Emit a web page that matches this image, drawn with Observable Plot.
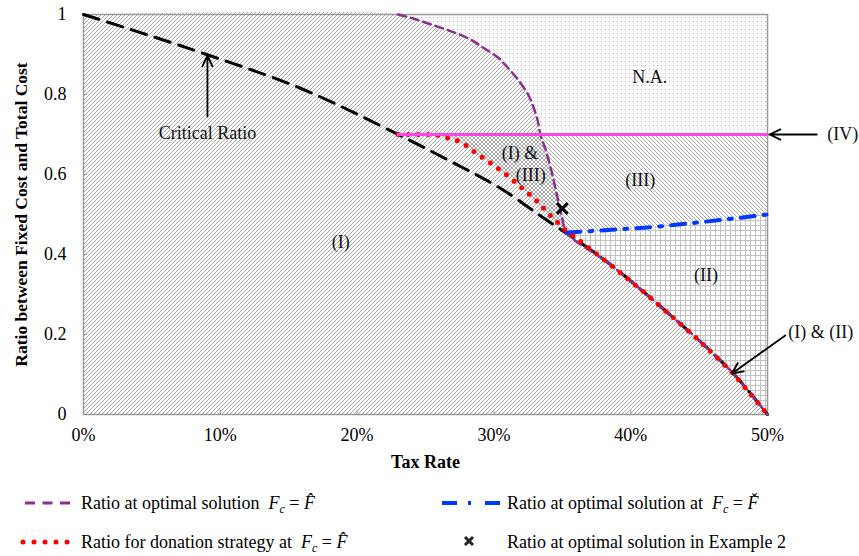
<!DOCTYPE html>
<html>
<head>
<meta charset="utf-8">
<script src="https://cdn.jsdelivr.net/npm/d3@7"></script>
<script src="https://cdn.jsdelivr.net/npm/@observablehq/plot@0.6"></script>
<style>
  body { margin: 0; background: white; }
  #wrap { position: relative; width: 859px; height: 556px; font-family: "Liberation Serif", "DejaVu Serif", serif; color: #000; }
  .leg { position: absolute; font-size: 18px; line-height: 24px; white-space: nowrap; }
  .leg i { font-style: italic; }
  .leg sub { font-size: 12px; font-style: italic; vertical-align: -4px; line-height: 0; }
  .sw { position: absolute; }
</style>
</head>
<body>
<div id="wrap"></div>
<script>
// ---- data (tax rate in %, ratio) ----
const taxCritical   = [0, 9, 15.9, 23, 27, 30.5, 33.9, 35, 38.4, 41, 43.6, 45, 47.5, 50];
const ratioCritical = [1.0, 0.90, 0.815, 0.70, 0.63, 0.565, 0.485, 0.46, 0.378, 0.305, 0.2275, 0.185, 0.1025, 0];

const taxOptimal   = [23, 24.1, 25.2, 26.3, 27.3, 28.3, 29.2, 30.3, 31.0, 31.7, 32.5, 32.9, 33.2, 33.4, 33.8, 34.2, 34.6, 35.0, 35.3, 38.4, 41, 43.6, 45, 47.5, 50];
const ratioOptimal = [1.0, 0.99, 0.9775, 0.965, 0.9525, 0.9375, 0.9175, 0.8925, 0.8675, 0.84, 0.80, 0.7675, 0.735, 0.70, 0.66, 0.61, 0.55, 0.49, 0.455, 0.378, 0.305, 0.2275, 0.185, 0.1025, 0];

const taxDonation   = [23, 25.7, 27.3, 28.1, 28.7, 29.5, 30.1, 30.8, 31.4, 32.1, 32.7, 33.3, 33.9, 34.5, 35.1, 38.4, 41, 43.6, 45, 47.5, 50];
const ratioDonation = [0.70, 0.70, 0.685, 0.67, 0.6525, 0.635, 0.62, 0.6025, 0.585, 0.565, 0.5475, 0.5275, 0.505, 0.485, 0.465, 0.378, 0.305, 0.2275, 0.185, 0.1025, 0];

const taxCheck   = [35.3, 38.9, 42.0, 44.9, 50];
const ratioCheck = [0.455, 0.4625, 0.47, 0.48, 0.50];

const taxIV   = [23, 50];
const ratioIV = [0.70, 0.70];

const taxExample2   = [35.0];
const ratioExample2 = [0.515];

const xTickValues = [0, 10, 20, 30, 40, 50];
const xTickLabels = ["0%", "10%", "20%", "30%", "40%", "50%"];
const yTickValues = [0, 0.2, 0.4, 0.6, 0.8, 1];
const yTickLabels = ["0", "0.2", "0.4", "0.6", "0.8", "1"];

const labelTexts = ["(I)", "(I) &", "(III)", "(III)", "(II)", "N.A.", "Critical Ratio", "(IV)", "(I) & (II)"];
const labelTax   = [18.8, 31.9, 32.7, 40.7, 45.5, 41.4, 9.06, 55.5, 53.9];
const labelRatio = [0.43, 0.6525, 0.5975, 0.585, 0.3475, 0.8425, 0.7025, 0.70, 0.205];

const arrowTax1   = [9.06, 53.6, 51.3];
const arrowRatio1 = [0.745, 0.70, 0.1975];
const arrowTax2   = [9.06, 50.15, 47.4];
const arrowRatio2 = [0.8975, 0.70, 0.1025];

// ---- build tables ----
const zip = (xs, ys) => xs.map((x, i) => ({x, y: ys[i]}));
const critical = zip(taxCritical, ratioCritical);
const optimal = zip(taxOptimal, ratioOptimal);
const donation = zip(taxDonation, ratioDonation);
const check = zip(taxCheck, ratioCheck);
const lineIV = zip(taxIV, ratioIV);
const example2 = zip(taxExample2, ratioExample2);
const labels = labelTexts.map((t, i) => ({t, x: labelTax[i], y: labelRatio[i]}));
const arrows = arrowTax1.map((x1, i) => ({x1, y1: arrowRatio1[i], x2: arrowTax2[i], y2: arrowRatio2[i]}));

const regionI = [{x: 0, y: 1}, ...optimal];
const regionNA = [...optimal.filter(d => d.y >= ratioIV[0]), {x: taxIV[1], y: ratioIV[1]}];
const regionIII = [...donation.filter(d => d.x <= 35.1), ...check];
const regionII = check;

function patterns() {
  const defs = d3.create("svg:defs");
  const up = defs.append("pattern").attr("id", "hatchUp").attr("patternUnits", "userSpaceOnUse").attr("width", 4).attr("height", 4);
  up.append("rect").attr("width", 4).attr("height", 4).attr("fill", "white");
  up.append("path").attr("d", "M-1,1L1,-1M0,4L4,0M3,5L5,3").attr("stroke", "#a8a8a8").attr("stroke-width", 1);
  const down = defs.append("pattern").attr("id", "hatchDown").attr("patternUnits", "userSpaceOnUse").attr("width", 4).attr("height", 4);
  down.append("path").attr("d", "M-1,3L1,5M0,0L4,4M3,-1L5,1").attr("stroke", "#a8a8a8").attr("stroke-width", 1);
  const grid = defs.append("pattern").attr("id", "grid").attr("patternUnits", "userSpaceOnUse").attr("width", 5).attr("height", 5);
  grid.append("rect").attr("width", 5).attr("height", 5).attr("fill", "white");
  grid.append("path").attr("d", "M0,0.5H5M0.5,0V5").attr("stroke", "#c2c2c2").attr("stroke-width", 1);
  const dots = defs.append("pattern").attr("id", "dots").attr("patternUnits", "userSpaceOnUse").attr("width", 4).attr("height", 4);
  dots.append("rect").attr("width", 4).attr("height", 4).attr("fill", "white");
  dots.append("rect").attr("x", 1).attr("y", 1).attr("width", 1).attr("height", 1).attr("fill", "#bcbcbc");
  return defs.node();
}

const purple = "#8c2f8f";
const red = "#ff0000";
const blue = "#0038ff";
const pink = "#ff44ee";

const chart = Plot.plot({
  width: 859,
  height: 480,
  marginLeft: 83,
  marginRight: 92,
  marginTop: 14,
  marginBottom: 66,
  x: {domain: [0, 50], axis: null},
  y: {domain: [0, 1], axis: null},
  style: {fontFamily: "'Liberation Serif', 'DejaVu Serif', serif", fontSize: "18px", background: "white", overflow: "visible"},
  marks: [
    patterns,
    Plot.areaY(regionNA, {x: "x", y1: "y", y2: 1, fill: "url(#dots)", curve: "catmull-rom"}),
    Plot.areaY(regionII, {x: "x", y1: 0, y2: "y", fill: "url(#grid)", curve: "monotone-x"}),
    Plot.areaY(regionI, {x: "x", y1: 0, y2: "y", fill: "url(#hatchUp)", curve: "catmull-rom"}),
    Plot.areaY(regionIII, {x: "x", y1: "y", y2: ratioIV[0], fill: "url(#hatchDown)"}),
    Plot.frame({stroke: "#9a9a9a", strokeWidth: 1.5}),
    Plot.tickX(xTickValues, {x: d => d, insetTop: 396, stroke: "#9a9a9a"}),
    Plot.tickY(yTickValues, {y: d => d, insetRight: 680, stroke: "#9a9a9a"}),
    Plot.text(xTickValues, {x: d => d, text: (d, i) => xTickLabels[i], frameAnchor: "bottom", dy: 26}),
    Plot.text(yTickValues, {y: d => d, text: (d, i) => yTickLabels[i], frameAnchor: "left", dx: -17, textAnchor: "end"}),
    Plot.text(["Tax Rate"], {text: d => d, frameAnchor: "bottom", dy: 53, fontWeight: "bold"}),
    Plot.text(["Ratio between Fixed Cost and Total Cost"], {text: d => d, frameAnchor: "left", textAnchor: "middle", dx: -62, rotate: -90, fontWeight: "bold", fontSize: 17.5}),
    Plot.line(critical, {x: "x", y: "y", stroke: "black", strokeWidth: 3, strokeDasharray: "16 9", curve: "monotone-x"}),
    Plot.line(optimal, {x: "x", y: "y", stroke: purple, strokeWidth: 2.5, strokeDasharray: "8 5", curve: "catmull-rom"}),
    Plot.line(check, {x: "x", y: "y", stroke: blue, strokeWidth: 4, strokeDasharray: "14 9 3 9", curve: "monotone-x"}),
    Plot.line(donation, {x: "x", y: "y", stroke: red, strokeWidth: 5, strokeDasharray: "0 10", strokeLinecap: "round", curve: "linear"}),
    Plot.line(lineIV, {x: "x", y: "y", stroke: pink, strokeWidth: 3}),
    Plot.dot(example2, {x: "x", y: "y", symbol: "times", r: 5, stroke: "black", strokeWidth: 3}),
    Plot.arrow(arrows, {x1: "x1", y1: "y1", x2: "x2", y2: "y2", stroke: "black", strokeWidth: 1.8, headLength: 10, headAngle: 50}),
    Plot.text(labels, {x: "x", y: "y", text: "t", fill: "#111"})
  ]
});

const wrap = document.getElementById("wrap");
wrap.appendChild(chart);

// ---- legend ----
const legendItems = [
  {html: 'Ratio at optimal solution&nbsp; <i>F</i><sub>c</sub> = <i>F&#770;</i>', left: 81, top: 491},
  {html: 'Ratio for donation strategy at&nbsp; <i>F</i><sub>c</sub> = <i>F&#770;</i>', left: 81, top: 530},
  {html: 'Ratio at optimal solution at&nbsp; <i>F</i><sub>c</sub> = <i>F&#780;</i>', left: 507, top: 491},
  {html: 'Ratio at optimal solution in Example 2', left: 507, top: 530}
];
legendItems.forEach(d => {
  const el = document.createElement("div");
  el.className = "leg";
  el.style.left = d.left + "px";
  el.style.top = d.top + "px";
  el.innerHTML = d.html;
  wrap.appendChild(el);
});
const sw = document.createElementNS("http://www.w3.org/2000/svg", "svg");
sw.setAttribute("width", 859);
sw.setAttribute("height", 76);
sw.setAttribute("class", "sw");
sw.style.left = "0px";
sw.style.top = "480px";
sw.innerHTML = `
  <line x1="25" x2="70" y1="23" y2="23" stroke="${purple}" stroke-width="3" stroke-dasharray="10 7.5"/>
  <line x1="23" x2="68" y1="62" y2="62" stroke="${red}" stroke-width="5" stroke-linecap="round" stroke-dasharray="0 11"/>
  <line x1="442" x2="500" y1="23" y2="23" stroke="${blue}" stroke-width="4" stroke-dasharray="15 11 3 14 15"/>
  <path d="M465,57L473,65M473,57L465,65" stroke="#222" stroke-width="3"/>
`;
wrap.appendChild(sw);
</script>
</body>
</html>
